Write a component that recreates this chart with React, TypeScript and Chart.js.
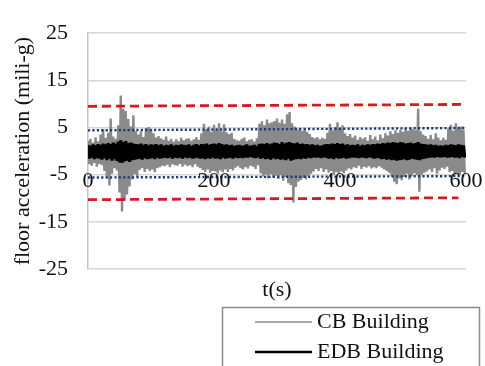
import { useEffect, useRef } from "react";
import { Chart, registerables } from "chart.js";

Chart.register(...registerables);

const FONT = "'Liberation Serif', 'Times New Roman', serif";

// sampling interval of the records (s)
const STEP_S = 2;

// CB Building floor acceleration (mili-g), one value every STEP_S seconds from t = 0
const CB_BUILDING = [
  2.2, -2.8, 2.6, -3.1, 1.8, -2.5, 2.9, -3.3, 2.1, -2.7,
  3.5, -3.0, 4.6, -4.2, 2.8, -5.5, 3.9, -7.3, 6.9, -4.8,
  3.1, -3.6, 2.6, -4.1, 5.5, -8.8, 11.8, -12.8, 9.0, -10.5,
  8.5, -9.2, 6.8, -7.5, 5.2, -6.0, 7.6, -4.9, 4.3, -5.5,
  3.5, -4.0, 4.2, -3.6, 3.0, -4.4, 4.9, -3.8, 5.1, -4.2,
  4.6, -3.9, 3.8, -4.5, 2.9, -3.6, 3.2, -3.4, 2.7, -3.1,
  2.4, -3.2, 3.1, -2.9, 2.2, -3.4, 2.6, -2.8, 2.0, -3.0,
  2.5, -3.1, 2.1, -2.7, 2.8, -3.3, 2.3, -2.9, 2.6, -3.2,
  2.7, -3.0, 2.2, -3.4, 2.5, -2.8, 3.0, -3.3, 2.4, -3.6,
  3.8, -4.0, 5.8, -4.4, 4.6, -3.9, 5.2, -4.6, 4.1, -4.2,
  5.6, -4.3, 4.4, -4.8, 5.9, -4.1, 4.2, -4.5, 5.7, -3.9,
  4.0, -4.4, 3.6, -3.8, 3.9, -4.1, 2.6, -3.5, 2.3, -3.2,
  2.2, -3.6, 2.6, -3.9, 2.9, -3.4, 2.1, -3.7, 2.4, -3.1,
  2.5, -3.3, 2.0, -3.8, 2.7, -3.0, 5.8, -4.7, 6.3, -5.4,
  5.5, -5.0, 6.7, -5.8, 5.9, -4.9, 6.1, -5.6, 6.4, -5.2,
  6.9, -5.9, 6.0, -5.1, 6.7, -6.3, 5.8, -5.5, 7.8, -6.8,
  8.3, -7.2, 5.9, -10.9, 5.2, -7.6, 4.6, -6.5, 4.9, -6.1,
  4.3, -5.7, 4.8, -6.0, 4.1, -5.2, 3.6, -4.8, 3.0, -4.3,
  2.7, -3.8, 3.0, -4.2, 2.5, -3.6, 2.8, -4.4, 2.6, -3.9,
  3.9, -4.6, 5.8, -4.2, 4.4, -5.0, 5.1, -4.4, 6.1, -4.8,
  4.7, -4.3, 5.5, -4.7, 3.8, -4.1, 3.2, -3.7, 3.6, -3.9,
  2.8, -3.4, 3.3, -3.6, 2.4, -3.1, 3.0, -3.8, 2.6, -3.3,
  2.9, -3.5, 2.2, -3.2, 3.4, -3.7, 2.5, -3.4, 3.1, -3.6,
  2.3, -3.2, 3.5, -3.5, 2.7, -3.9, 3.8, -4.2, 3.3, -4.6,
  4.2, -5.4, 3.6, -6.5, 4.4, -7.0, 3.9, -5.8, 4.5, -6.2,
  4.1, -5.5, 4.9, -4.8, 4.3, -6.0, 5.0, -5.2, 4.6, -4.7,
  4.4, -5.1, 9.0, -8.6, 4.2, -5.0, 3.5, -4.6, 3.2, -4.3,
  2.6, -3.9, 3.4, -4.4, 2.5, -3.6, 3.8, -4.8, 2.9, -4.1,
  2.3, -3.5, 2.8, -3.8, 2.4, -3.3, 4.8, -4.5, 5.6, -4.2,
  4.3, -4.9, 5.9, -4.6, 4.7, -5.1, 5.2, -4.4, 4.5, -4.8,
];

// EDB Building floor acceleration (mili-g), same sampling
const EDB_BUILDING = [
  1.3, -1.6, 1.1, -1.4, 1.4, -1.7, 1.2, -1.5, 1.5, -1.6,
  1.3, -1.8, 1.6, -1.5, 1.4, -1.9, 1.7, -1.6, 1.5, -2.0,
  1.8, -1.7, 1.6, -2.1, 2.0, -2.4, 2.3, -2.5, 1.9, -2.2,
  2.1, -2.0, 1.7, -2.3, 1.8, -1.9, 1.6, -1.8, 1.5, -1.7,
  1.4, -1.6, 1.6, -1.8, 1.3, -1.5, 1.5, -1.7, 1.2, -1.6,
  1.4, -1.5, 1.3, -1.7, 1.5, -1.4, 1.2, -1.6, 1.4, -1.5,
  1.1, -1.4, 1.3, -1.5, 1.2, -1.3, 1.4, -1.6, 1.1, -1.4,
  1.3, -1.5, 1.2, -1.4, 1.4, -1.6, 1.3, -1.3, 1.2, -1.5,
  1.4, -1.4, 1.1, -1.6, 1.3, -1.5, 1.5, -1.4, 1.2, -1.6,
  1.5, -1.5, 1.4, -1.7, 1.6, -1.5, 1.3, -1.6, 1.5, -1.4,
  1.6, -1.6, 1.4, -1.5, 1.7, -1.7, 1.5, -1.4, 1.3, -1.6,
  1.4, -1.5, 1.2, -1.4, 1.3, -1.6, 1.1, -1.3, 1.2, -1.5,
  1.3, -1.4, 1.1, -1.5, 1.2, -1.3, 1.4, -1.4, 1.1, -1.2,
  1.2, -1.4, 1.3, -1.5, 1.1, -1.3, 1.5, -1.6, 1.6, -1.5,
  1.5, -1.7, 1.7, -1.6, 1.4, -1.8, 1.6, -1.5, 1.8, -1.7,
  1.7, -1.6, 1.5, -1.8, 1.9, -1.7, 1.6, -1.9, 1.8, -1.6,
  1.9, -2.0, 1.7, -1.8, 1.6, -1.7, 1.8, -1.6, 1.5, -1.7,
  1.6, -1.5, 1.4, -1.6, 1.5, -1.4, 1.3, -1.5, 1.4, -1.3,
  1.2, -1.4, 1.3, -1.3, 1.1, -1.5, 1.2, -1.3, 1.4, -1.4,
  1.5, -1.6, 1.4, -1.5, 1.6, -1.7, 1.5, -1.4, 1.7, -1.6,
  1.5, -1.5, 1.6, -1.4, 1.3, -1.6, 1.4, -1.5, 1.2, -1.4,
  1.3, -1.3, 1.2, -1.4, 1.4, -1.5, 1.1, -1.3, 1.3, -1.4,
  1.2, -1.5, 1.4, -1.3, 1.3, -1.4, 1.5, -1.6, 1.4, -1.5,
  1.6, -1.5, 1.5, -1.7, 1.7, -1.6, 1.6, -1.8, 1.8, -1.7,
  1.7, -1.9, 1.9, -1.8, 1.8, -2.0, 1.7, -1.9, 1.9, -1.8,
  1.8, -1.7, 1.6, -1.9, 1.7, -1.8, 1.8, -1.6, 1.6, -1.7,
  1.7, -1.8, 1.9, -1.9, 1.6, -1.7, 1.5, -1.6, 1.4, -1.5,
  1.3, -1.4, 1.4, -1.3, 1.2, -1.4, 1.3, -1.2, 1.1, -1.3,
  1.2, -1.3, 1.1, -1.2, 1.3, -1.4, 1.2, -1.3, 1.4, -1.2,
  1.3, -1.4, 1.2, -1.3, 1.4, -1.5, 1.3, -1.2, 1.2, -1.4,
];

// limit lines (start and end points)
const RED_UPPER_T = [0, 598];
const RED_UPPER = [9.5, 9.9];
const RED_LOWER_T = [0, 588];
const RED_LOWER = [-10.3, -9.9];
const BLUE_T = [0, 600];
const BLUE_UPPER = [4.4, 4.9];
const BLUE_LOWER = [-5.6, -5.3];

const X_TICKS = [0, 200, 400, 600];
const Y_TICKS = [-25, -15, -5, 5, 15, 25];
const SERIES_NAMES = ["CB Building", "EDB Building"];
const X_TITLE = "t(s)";
const Y_TITLE = "floor acceleration (mili-g)";

const toPoints = (ts: number[], vs: number[]) => vs.map((v, i) => ({ x: ts[i], y: v }));
const series = (vs: number[]) => vs.map((v, i) => ({ x: i * STEP_S, y: v }));

const overlay = {
  id: "overlay",
  afterDatasetsDraw(chart: any) {
    const { ctx, scales, chartArea } = chart;
    const x = scales.x;
    const y = scales.y;
    ctx.save();
    ctx.font = `22px ${FONT}`;
    ctx.fillStyle = "#111";
    ctx.textAlign = "center";
    ctx.textBaseline = "alphabetic";
    const base = y.getPixelForValue(0) + 36;
    X_TICKS.forEach((v) => ctx.fillText(String(v), x.getPixelForValue(v), base));
    ctx.fillText(X_TITLE, (chartArea.left + chartArea.right) / 2, chartArea.bottom + 27);

    // legend
    ctx.strokeStyle = "#8c8c8c";
    ctx.lineWidth = 1.5;
    ctx.strokeRect(222.5, 307.5, 257, 80);
    const items = [
      { color: "#8a8a8a", w: 1.5, y: 322, base: 328 },
      { color: "#000", w: 2.5, y: 352, base: 358 },
    ];
    ctx.textAlign = "left";
    items.forEach((it, i) => {
      ctx.strokeStyle = it.color;
      ctx.lineWidth = it.w;
      ctx.beginPath();
      ctx.moveTo(255, it.y);
      ctx.lineTo(312, it.y);
      ctx.stroke();
      ctx.fillStyle = "#111";
      ctx.fillText(SERIES_NAMES[i], 317, it.base);
    });
    ctx.restore();
  },
};

export default function App() {
  const ref = useRef<HTMLCanvasElement | null>(null);
  useEffect(() => {
    if (!ref.current) return;
    const red = "#e0161c";
    const blue = "#1f3b78";
    const chart = new Chart(ref.current, {
      type: "line",
      data: {
        datasets: [
          { data: toPoints(RED_UPPER_T, RED_UPPER), borderColor: red, borderWidth: 2.8, borderDash: [9, 5], pointRadius: 0 },
          { data: toPoints(RED_LOWER_T, RED_LOWER), borderColor: red, borderWidth: 2.8, borderDash: [9, 5], pointRadius: 0 },
          { data: toPoints(BLUE_T, BLUE_UPPER), borderColor: blue, borderWidth: 2.4, borderDash: [2.2, 2.2], pointRadius: 0 },
          { data: toPoints(BLUE_T, BLUE_LOWER), borderColor: blue, borderWidth: 2.4, borderDash: [2.2, 2.2], pointRadius: 0 },
          { label: SERIES_NAMES[1], data: series(EDB_BUILDING), borderColor: "#000", borderWidth: 3.2, borderJoinStyle: "bevel", pointRadius: 0, tension: 0 },
          { label: SERIES_NAMES[0], data: series(CB_BUILDING), borderColor: "#8a8a8a", borderWidth: 2.4, borderJoinStyle: "bevel", pointRadius: 0, tension: 0 },
        ] as any,
      },
      options: {
        animation: false,
        responsive: false,
        devicePixelRatio: 1,
        layout: { padding: { top: 18, right: 19, bottom: 97, left: 0 } },
        plugins: { legend: { display: false }, tooltip: { enabled: false } },
        scales: {
          x: { type: "linear", min: 0, max: 600, display: false },
          y: {
            min: -25,
            max: 25,
            afterFit: (s: any) => { s.width = 88; },
            afterBuildTicks: (s: any) => { s.ticks = Y_TICKS.map((v) => ({ value: v })); },
            grid: { color: "#d6d6d6", lineWidth: 1.5, drawTicks: false },
            border: { color: "#c4c4c4", width: 1.5 },
            ticks: { padding: 20, color: "#111", font: { family: FONT, size: 22 } },
            title: { display: true, text: Y_TITLE, color: "#111", font: { family: FONT, size: 22 }, padding: { top: 10, bottom: 0 } },
          },
        },
      } as any,
      plugins: [overlay],
    });
    return () => chart.destroy();
  }, []);
  return (
    <div style={{ position: "fixed", left: 0, top: 0, width: 485, height: 366, background: "#fff" }}>
      <canvas ref={ref} width={485} height={366} style={{ width: 485, height: 366, display: "block" }} />
    </div>
  );
}
